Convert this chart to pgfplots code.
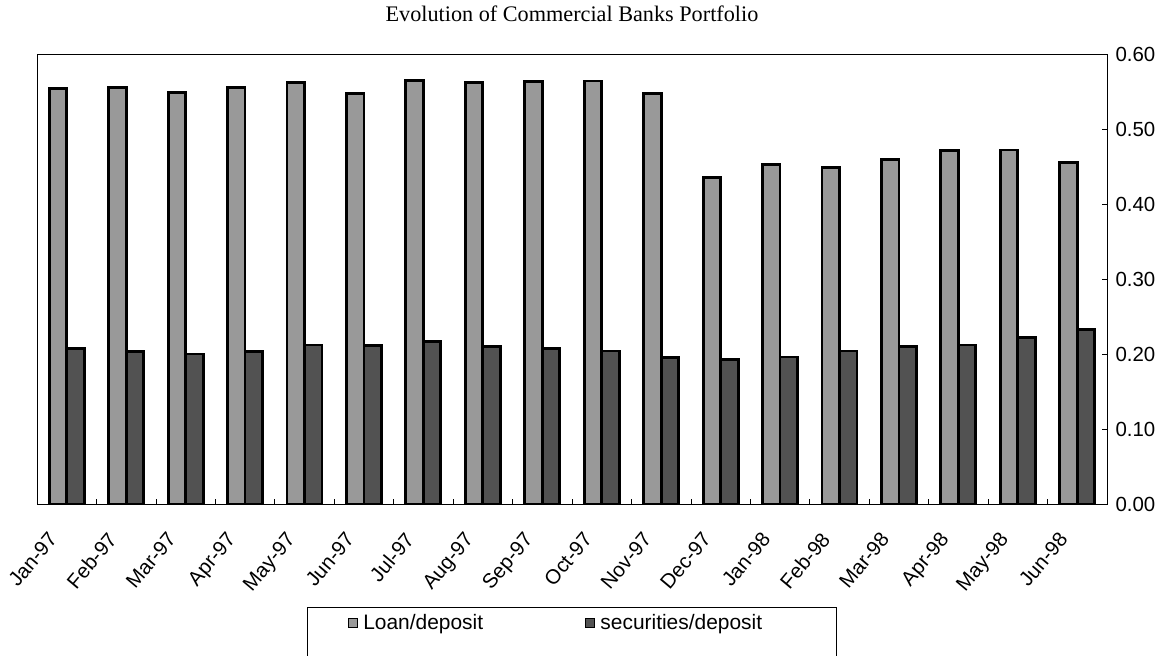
\documentclass[border=0pt]{standalone}
\usepackage{pgfplots}
\pgfplotsset{compat=1.18}
\usepackage{fontspec}
\setmainfont{Liberation Sans}
\newfontfamily\titlefont{Liberation Serif}
\begin{document}
\begin{tikzpicture}
\useasboundingbox (0bp,0bp) rectangle (1172bp,656bp);
\begin{axis}[
  at={(37bp,152bp)}, anchor=south west,
  scale only axis, width=1070bp, height=450bp,
  xmin=-0.5, xmax=17.5, ymin=0, ymax=0.6,
  ybar=0pt, bar width=17.5bp,
  axis line style={line width=0.8bp},
  tick align=inside, major tick length=5bp,
  tick style={black, line width=0.6bp},
  xtick={-0.5,0.5,...,17.5}, xticklabels={}, xtick pos=bottom,
  extra x ticks={0,1,2,3,4,5,6,7,8,9,10,11,12,13,14,15,16,17},
  extra x tick labels={Jan-97,Feb-97,Mar-97,Apr-97,May-97,Jun-97,Jul-97,Aug-97,Sep-97,Oct-97,Nov-97,Dec-97,Jan-98,Feb-98,Mar-98,Apr-98,May-98,Jun-98},
  extra x tick style={major tick length=0pt},
  x tick label style={font=\fontsize{20.5}{23}\selectfont, xshift=-20bp, yshift=-22bp, rotate=50, anchor=north east},
  ytick={0,0.1,0.2,0.3,0.4,0.5,0.6},
  ytick pos=right, yticklabel pos=right,
  y tick label style={font=\fontsize{20.5}{23}\selectfont, /pgf/number format/.cd, fixed, fixed zerofill, precision=2, assume math mode=true, /tikz/.cd, xshift=5bp},
  title={Evolution of Commercial Banks Portfolio},
  title style={font=\titlefont\fontsize{22.3}{25}\selectfont, at={(0.5,1)}, anchor=base, yshift=27bp},
  legend style={name=leg, at={(0.5,0)}, anchor=north, yshift=-103bp, xshift=-16bp, legend columns=2, draw=none,
    font=\fontsize{21}{24}\selectfont, inner xsep=40bp, inner ysep=5bp,
    /tikz/every even column/.append style={column sep=100bp}},
  legend image code/.code={\draw[#1, line width=0.8bp] (0bp,-4.5bp) rectangle (9bp,4.5bp); \path[draw=none, fill=none] (0bp,0bp) -- (13bp,0bp);},
]
\addplot[fill=black!40, draw=black, line width=2.8bp] coordinates {
(0,0.554) (1,0.555) (2,0.549) (3,0.555) (4,0.562) (5,0.547) (6,0.565) (7,0.562) (8,0.563)
(9,0.564) (10,0.547) (11,0.435) (12,0.453) (13,0.449) (14,0.459) (15,0.471) (16,0.472) (17,0.455)};
\addplot[fill=black!68, draw=black, line width=2.8bp] coordinates {
(0,0.2075) (1,0.203) (2,0.200) (3,0.203) (4,0.212) (5,0.211) (6,0.217) (7,0.210) (8,0.207)
(9,0.204) (10,0.195) (11,0.1925) (12,0.196) (13,0.204) (14,0.210) (15,0.212) (16,0.222) (17,0.233)};
\legend{Loan/deposit, securities/deposit}
\end{axis}
\draw[line width=0.8bp] (leg.north west) rectangle ([yshift=-19bp, xshift=32bp]leg.south east);
\end{tikzpicture}
\end{document}
